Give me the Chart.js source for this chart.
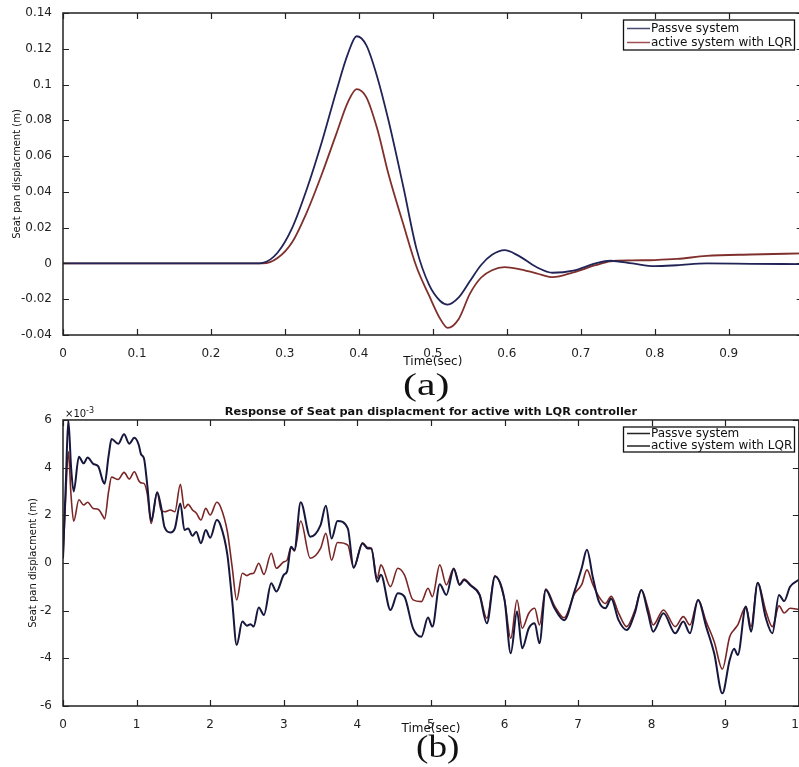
<!DOCTYPE html>
<html>
<head>
<meta charset="utf-8">
<script src="https://cdn.jsdelivr.net/npm/chart.js@4.4.1/dist/chart.umd.min.js"></script>
<style>
  html, body { margin: 0; padding: 0; background: #fff; overflow: hidden; width: 799px; height: 767px; }
  #wrap { position: relative; width: 799px; height: 767px; overflow: hidden; }
  canvas { position: absolute; left: 0; }
  #chartA { top: 0; }
  #chartB { top: 400px; }
</style>
</head>
<body>
<div id="wrap">
  <canvas id="chartA" width="810" height="410"></canvas>
  <canvas id="chartB" width="810" height="367"></canvas>
</div>
<script>
// Данные (a): смещение сиденья, м
const timeA = [0, 0.26, 0.27, 0.29, 0.31, 0.33, 0.35, 0.37, 0.385, 0.397, 0.41, 0.425, 0.44, 0.46, 0.478,
  0.495, 0.51, 0.52, 0.535, 0.55, 0.565, 0.58, 0.597, 0.615, 0.64, 0.662, 0.69, 0.72, 0.74, 0.77,
  0.80, 0.83, 0.87, 0.93, 1.0];
const passiveA = [0, 0, 0.0003, 0.006, 0.020, 0.042, 0.068, 0.097, 0.117, 0.127, 0.122, 0.104, 0.080, 0.043, 0.008,
  -0.012, -0.021, -0.023, -0.019, -0.010, -0.001, 0.0048, 0.0074, 0.0045, -0.002, -0.0052, -0.004, 0.000, 0.0015, 0.000,
  -0.0015, -0.001, 0.000, -0.0002, -0.0004];
const activeA = [0, 0, 0, 0.003, 0.012, 0.029, 0.050, 0.073, 0.090, 0.0975, 0.093, 0.075, 0.050, 0.022, -0.002,
  -0.018, -0.031, -0.036, -0.031, -0.017, -0.008, -0.0038, -0.0021, -0.003, -0.0055, -0.0077, -0.005, -0.001, 0.0012, 0.0017,
  0.0019, 0.0025, 0.0042, 0.005, 0.0056];

// Данные (b): смещение сиденья, x10^-3 м
const timeB = [0, 0.04, 0.072, 0.11, 0.145, 0.216, 0.28, 0.335, 0.41, 0.477, 0.545, 0.565, 0.62, 0.66, 0.75,
  0.83, 0.90, 0.97, 1.03, 1.06, 1.10, 1.145, 1.198, 1.28, 1.33, 1.38, 1.46, 1.52, 1.595, 1.65,
  1.70, 1.76, 1.81, 1.874, 1.94, 2.0, 2.09, 2.14, 2.234, 2.30, 2.36, 2.437, 2.50, 2.55, 2.59,
  2.66, 2.73, 2.83, 2.90, 3.0, 3.045, 3.10, 3.144, 3.23, 3.36, 3.50, 3.572, 3.65, 3.73, 3.87,
  3.95, 4.07, 4.14, 4.19, 4.27, 4.32, 4.45, 4.55, 4.64, 4.757, 4.87, 4.96, 5.02, 5.12, 5.21,
  5.31, 5.39, 5.45, 5.54, 5.66, 5.76, 5.87, 6.0, 6.085, 6.17, 6.24, 6.33, 6.41, 6.475, 6.56,
  6.68, 6.81, 6.95, 7.05, 7.12, 7.2, 7.28, 7.37, 7.45, 7.55, 7.66, 7.77, 7.86, 7.95, 8.02,
  8.16, 8.32, 8.43, 8.52, 8.63, 8.74, 8.85, 8.96, 9.06, 9.12, 9.17, 9.28, 9.35, 9.44, 9.55,
  9.64, 9.73, 9.8, 9.88, 10.0];
const passiveB = [0.2, 3.5, 6.0, 4.0, 3.0, 4.46, 4.18, 4.42, 4.16, 4.06, 3.41, 3.32, 4.5, 5.2, 5.0,
  5.4, 5.0, 5.25, 4.95, 4.56, 4.39, 3.28, 1.76, 2.97, 2.40, 1.50, 1.28, 1.45, 2.50, 1.38,
  1.45, 1.14, 1.31, 0.83, 1.38, 1.06, 1.80, 1.59, 0.34, -1.62, -3.44, -2.46, -2.63, -2.57, -2.67,
  -1.87, -2.18, -0.85, -1.2, -0.5, -0.35, 0.68, 0.54, 2.55, 1.10, 1.59, 2.40, 1.03, 1.76, 1.45,
  -0.20, 0.82, 0.61, 0.61, -0.79, -0.49, -1.97, -1.27, -1.41, -2.74, -3.09, -2.29, -2.67, -0.89, -1.34,
  -0.25, -0.92, -0.71, -0.95, -1.34, -2.53, -0.57, -1.55, -3.79, -2.04, -3.58, -2.74, -2.53, -3.37, -1.13,
  -1.9, -2.4, -1.2, -0.2, 0.55, -0.6, -1.6, -1.9, -1.5, -2.4, -2.81, -2.11, -1.13, -2.1, -2.88,
  -2.11, -2.95, -2.46, -2.95, -1.55, -2.67, -3.8, -5.47, -4.07, -3.6, -3.86, -1.83, -2.88, -0.83, -2.3,
  -2.95, -1.34, -1.6, -1.0, -0.7];
const activeB = [0.2, 3.0, 4.67, 2.8, 1.75, 2.65, 2.43, 2.55, 2.29, 2.25, 1.95, 1.85, 3.0, 3.6, 3.5,
  3.8, 3.52, 3.83, 3.45, 3.36, 3.34, 2.9, 1.66, 2.97, 2.25, 2.15, 2.22, 2.15, 3.30, 2.29,
  2.46, 2.22, 2.1, 1.8, 2.29, 2.01, 2.55, 2.36, 1.31, -0.2, -1.55, -0.43, -0.53, -0.45, -0.43,
  -0.01, -0.48, 0.41, -0.22, 0.05, 0.12, 0.68, 0.5, 1.76, 0.20, 0.61, 1.24, 0.12, 0.86, 0.75,
  -0.20, 0.85, 0.65, 0.61, -0.64, -0.08, -0.99, -0.22, -0.5, -1.55, -1.62, -1.06, -1.41, -0.08, -0.92,
  -0.22, -0.89, -0.67, -0.92, -1.31, -2.32, -0.54, -1.55, -3.16, -1.55, -2.74, -2.11, -1.9, -2.6, -1.09,
  -1.8, -2.3, -1.3, -0.9, -0.29, -0.9, -1.4, -1.7, -1.4, -2.1, -2.67, -2.0, -1.13, -1.9, -2.6,
  -1.97, -2.67, -2.25, -2.60, -1.55, -2.46, -3.3, -4.45, -3.09, -2.8, -2.6, -1.83, -2.67, -0.83, -2.0,
  -2.67, -1.8, -2.1, -1.9, -1.95];

const seriesLabels = ['Passve system', 'active system with LQR'];

Chart.defaults.font.family = "'DejaVu Sans', sans-serif";
Chart.defaults.color = '#222';

function toPoints(xs, ys) {
    return xs.map((x, i) => ({ x: x, y: ys[i] }));
}

// Рамка в стиле MATLAB, засечки внутрь, легенда и подписи
const matlabBox = {
    id: 'matlabBox',
    afterDraw(chart, args, opts) {
        const { ctx, chartArea: a, scales: { x, y } } = chart;
        ctx.save();
        ctx.strokeStyle = '#222';
        ctx.lineWidth = 1.5;
        ctx.strokeRect(a.left, a.top, a.right - a.left, a.bottom - a.top);

        ctx.lineWidth = 1.2;
        ctx.beginPath();
        x.ticks.forEach(t => {
            const px = Math.round(x.getPixelForValue(t.value)) + 0.5;
            ctx.moveTo(px, a.bottom); ctx.lineTo(px, a.bottom - 6);
            ctx.moveTo(px, a.top); ctx.lineTo(px, a.top + 6);
        });
        y.ticks.forEach(t => {
            const py = Math.round(y.getPixelForValue(t.value)) + 0.5;
            ctx.moveTo(a.left, py); ctx.lineTo(a.left + 6, py);
            ctx.moveTo(a.right, py); ctx.lineTo(a.right - 6, py);
        });
        ctx.stroke();

        // легенда
        const lg = opts.legend;
        ctx.fillStyle = '#fff';
        ctx.fillRect(lg.left, lg.top, lg.right - lg.left, lg.bottom - lg.top);
        ctx.strokeStyle = '#111';
        ctx.lineWidth = 1.3;
        ctx.strokeRect(lg.left, lg.top, lg.right - lg.left, lg.bottom - lg.top);
        ctx.font = "12px 'DejaVu Sans', sans-serif";
        ctx.textBaseline = 'middle';
        ctx.textAlign = 'left';
        chart.data.datasets.forEach((ds, i) => {
            const ry = lg.rows[i];
            ctx.strokeStyle = lg.colors[i];
            ctx.lineWidth = 1.5;
            ctx.beginPath();
            ctx.moveTo(lg.lineFrom, ry); ctx.lineTo(lg.lineTo, ry);
            ctx.stroke();
            ctx.fillStyle = '#111';
            ctx.fillText(ds.label, lg.textX, ry);
        });

        // доп. подписи
        (opts.notes || []).forEach(n => {
            ctx.save();
            ctx.font = n.font;
            ctx.fillStyle = '#111';
            ctx.textBaseline = n.baseline || 'alphabetic';
            ctx.textAlign = 'left';
            ctx.translate(n.x, n.y);
            ctx.scale(n.scaleX || 1, 1);
            ctx.fillText(n.text, 0, 0);
            ctx.restore();
        });
        ctx.restore();
    }
};

function lineDataset(label, xs, ys, color, width) {
    return {
        label: label,
        data: toPoints(xs, ys),
        borderColor: color,
        borderWidth: width,
        pointRadius: 0,
        fill: false,
        cubicInterpolationMode: 'monotone'
    };
}

function makeChart(canvasId, cfg) {
    const ctx = document.getElementById(canvasId).getContext('2d');
    return new Chart(ctx, {
        type: 'line',
        data: { datasets: cfg.datasets },
        plugins: [matlabBox],
        options: {
            responsive: false,
            animation: false,
            layout: { padding: cfg.padding },
            plugins: {
                legend: { display: false },
                tooltip: { enabled: false },
                title: cfg.title,
                matlabBox: { legend: cfg.legend, notes: cfg.notes }
            },
            scales: {
                x: {
                    type: 'linear',
                    min: cfg.xMin, max: cfg.xMax,
                    grid: { display: false },
                    border: { display: false },
                    ticks: { stepSize: cfg.xStep, padding: 3.5, maxRotation: 0, autoSkip: false,
                        font: { size: 12 }, color: '#222', callback: cfg.xFmt },
                    title: { display: true, text: 'Time(sec)', font: { size: 12 }, color: '#111',
                        padding: { top: 0, bottom: 30.8 } },
                    afterFit: s => { s.height = cfg.xHeight; }
                },
                y: {
                    min: cfg.yMin, max: cfg.yMax,
                    grid: { display: false },
                    border: { display: false },
                    ticks: { stepSize: cfg.yStep, padding: 3, autoSkip: false,
                        font: { size: 12 }, color: '#222', callback: cfg.yFmt },
                    title: { display: true, text: 'Seat pan displacment (m)', font: { size: 10 }, color: '#111',
                        padding: { top: cfg.yTitlePad, bottom: 0 } },
                    afterFit: s => { s.width = 63; }
                }
            }
        }
    });
}

makeChart('chartA', {
    datasets: [
        lineDataset(seriesLabels[0], timeA, passiveA, '#222458', 1.8),
        lineDataset(seriesLabels[1], timeA, activeA, '#80302c', 1.8)
    ],
    padding: { left: 0, right: 7, top: 13, bottom: 10 },
    title: { display: false },
    xMin: 0, xMax: 1, xStep: 0.1, xHeight: 65,
    yMin: -0.04, yMax: 0.14, yStep: 0.02, yTitlePad: 11,
    xFmt: v => String(Number(v.toFixed(1))),
    yFmt: v => String(Number(v.toFixed(2))),
    legend: { left: 623.5, top: 20, right: 794.5, bottom: 50, rows: [28.5, 42.5],
        lineFrom: 627, lineTo: 650, textX: 651, colors: ['#4a4a70', '#a05050'] },
    notes: [{ text: '(a)', x: 403, y: 387, font: "31px 'Liberation Serif', serif", baseline: 'middle', scaleX: 1.35 }]
});

makeChart('chartB', {
    datasets: [
        lineDataset(seriesLabels[0], timeB, passiveB, '#16173c', 2),
        lineDataset(seriesLabels[1], timeB, activeB, '#7a2626', 1.6)
    ],
    padding: { left: 0, right: 7, top: 0, bottom: 0 },
    title: { display: true, fullSize: false,
        text: 'Response of Seat pan displacment for active with LQR controller',
        font: { size: 11.3, weight: 'bold' }, color: '#111', padding: { top: 5.2, bottom: 1.2 } },
    xMin: 0, xMax: 10, xStep: 1, xHeight: 61,
    yMin: -6, yMax: 6, yStep: 2, yTitlePad: 27,
    xFmt: v => String(v),
    yFmt: v => String(v),
    legend: { left: 623.5, top: 27, right: 794.5, bottom: 52, rows: [33.5, 46],
        lineFrom: 627, lineTo: 650, textX: 651, colors: ['#222', '#222'] },
    notes: [
        { text: '\u00d710', x: 65, y: 17, font: "10px 'DejaVu Sans', sans-serif" },
        { text: '-3', x: 86, y: 13, font: "8px 'DejaVu Sans', sans-serif" },
        { text: '(b)', x: 416, y: 349, font: "31px 'Liberation Serif', serif", baseline: 'middle', scaleX: 1.2 }
    ]
});
</script>
</body>
</html>
